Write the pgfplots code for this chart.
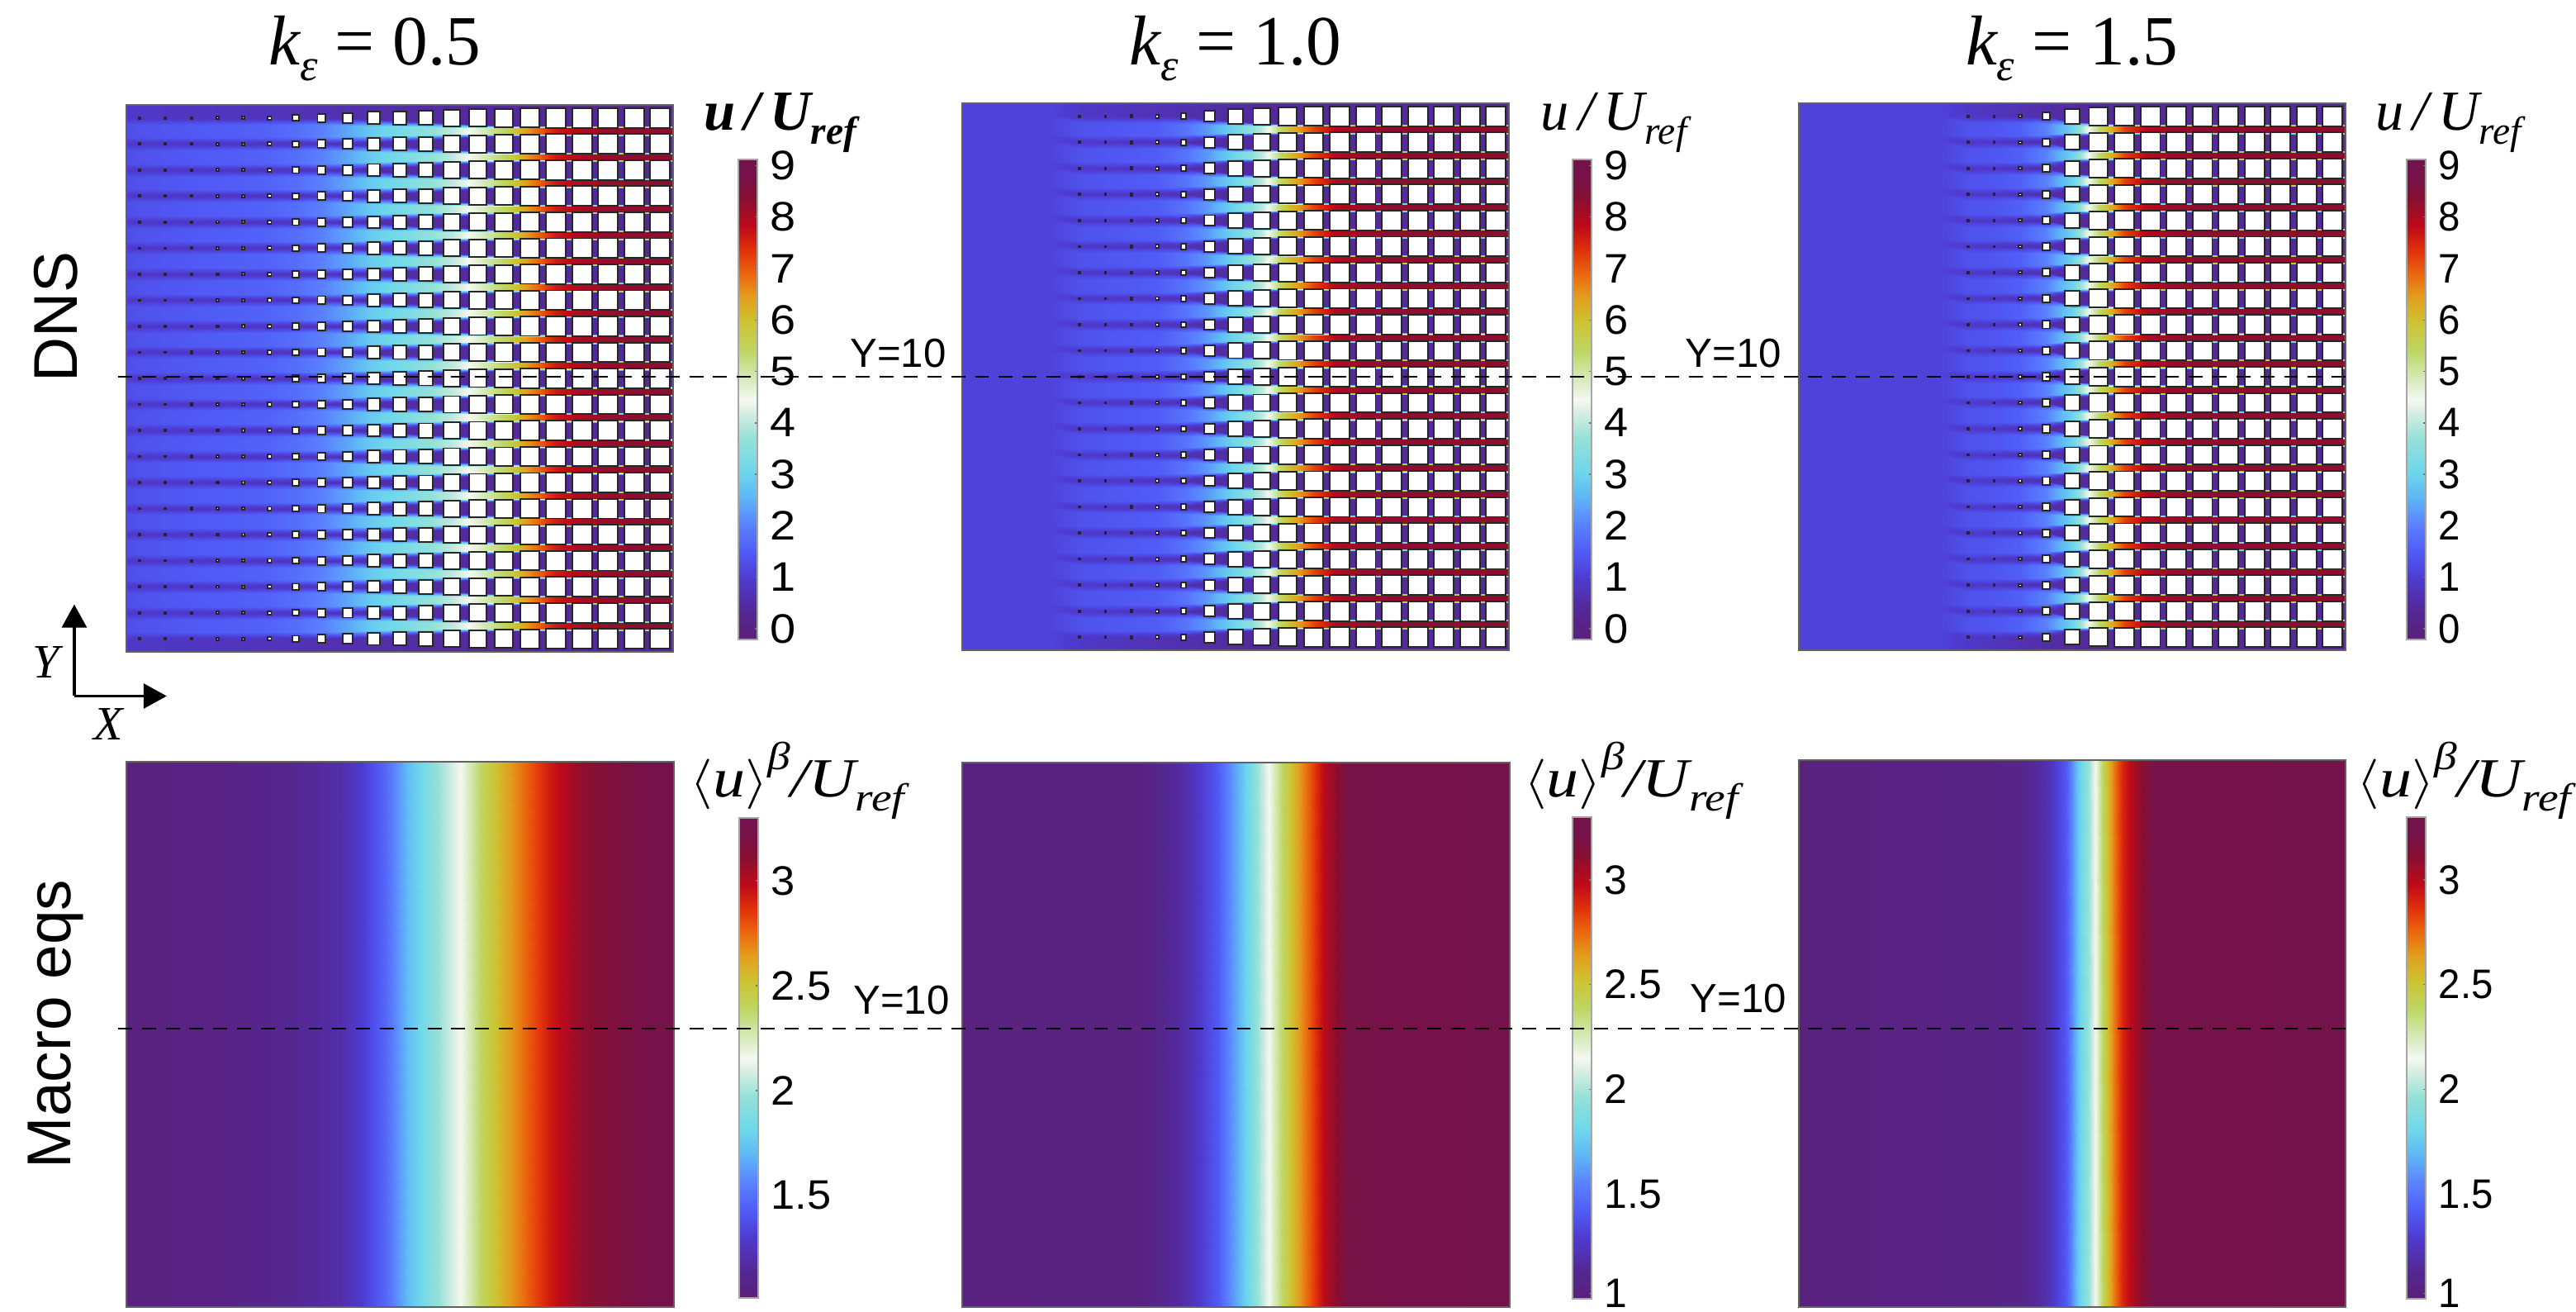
\documentclass[border=0pt]{standalone}
\usepackage{graphicx}
\usepackage{fontspec}
\setmainfont{Liberation Sans}
\newfontfamily\tm{Liberation Serif}
\usepackage{pgfplots}
\usepackage{pgfplotstable}
\pgfplotsset{compat=1.18}
\usetikzlibrary{arrows.meta}
\newcommand\fs[1]{\fontsize{#1}{#1}\selectfont}
\pgfplotsset{
  colormap={flow}{
    rgb255(0cm)=(90,32,120) rgb255(6cm)=(84,40,150) rgb255(13cm)=(78,60,210)
    rgb255(18cm)=(80,90,245) rgb255(24cm)=(90,130,255) rgb255(30cm)=(95,185,245)
    rgb255(35cm)=(110,215,235) rgb255(42cm)=(150,225,215) rgb255(48cm)=(225,240,230)
    rgb255(50cm)=(245,248,240) rgb255(54cm)=(215,235,190) rgb255(60cm)=(190,215,100)
    rgb255(66cm)=(205,195,50) rgb255(71cm)=(225,160,30) rgb255(76cm)=(235,105,15)
    rgb255(81cm)=(225,50,10) rgb255(86cm)=(190,10,25) rgb255(92cm)=(135,15,50)
    rgb255(96cm)=(118,18,72) rgb255(100cm)=(115,18,78)
  },
  colormap name=flow,
  panel/.style={scale only axis, anchor=north west, xtick=\empty, ytick=\empty,
    axis on top, axis line style={draw=black!62, line width=.6pt}},
}
% ---- DNS data: per column x: dy level, velocity
\pgfplotstableread[row sep=\\]{
x dy m\\
-0.5 -.5 .9\\ -0.5 -.25 1.3\\ -0.5 .25 1.3\\ -0.5 .5 .9\\
0 -.5 .85\\ 0 -.25 1.35\\ 0 .25 1.35\\ 0 .5 .85\\
1 -.5 .85\\ 1 -.25 1.4\\ 1 .25 1.4\\ 1 .5 .85\\
2 -.5 .82\\ 2 -.25 1.45\\ 2 .25 1.45\\ 2 .5 .82\\
3 -.5 .8\\ 3 -.25 1.5\\ 3 .25 1.5\\ 3 .5 .8\\
4 -.5 .78\\ 4 -.25 1.55\\ 4 .25 1.55\\ 4 .5 .78\\
5 -.5 .75\\ 5 -.25 1.6\\ 5 .25 1.6\\ 5 .5 .75\\
6 -.5 .72\\ 6 -.25 1.75\\ 6 .25 1.75\\ 6 .5 .72\\
7 -.5 .68\\ 7 -.25 2.0\\ 7 .25 2.0\\ 7 .5 .68\\
8 -.5 .62\\ 8 -.22 2.4\\ 8 .22 2.4\\ 8 .5 .62\\
9 -.45 .58\\ 9 -.18 2.9\\ 9 .18 2.9\\ 9 .45 .58\\
10 -.4 .55\\ 10 -.16 3.2\\ 10 .16 3.2\\ 10 .4 .55\\
11 -.35 .5\\ 11 -.14 3.6\\ 11 .14 3.6\\ 11 .35 .5\\
12 -.3 .45\\ 12 -.12 4.0\\ 12 .12 4.0\\ 12 .3 .45\\
13 -.25 .42\\ 13 -.12 4.7\\ 13 .12 4.7\\ 13 .25 .42\\
14 -.22 .4\\ 14 -.11 5.4\\ 14 .11 5.4\\ 14 .22 .4\\
15 -.2 .4\\ 15 -.1 6.6\\ 15 .1 6.6\\ 15 .2 .4\\
16 -.2 .4\\ 16 -.1 7.6\\ 16 .1 7.6\\ 16 .2 .4\\
17 -.2 .4\\ 17 -.1 8\\ 17 .1 8\\ 17 .2 .4\\
18 -.2 .4\\ 18 -.1 8.2\\ 18 .1 8.2\\ 18 .2 .4\\
19 -.2 .4\\ 19 -.1 8.3\\ 19 .1 8.3\\ 19 .2 .4\\
20 -.2 .4\\ 20 -.1 8.3\\ 20 .1 8.3\\ 20 .2 .4\\
20.5 -.2 .4\\ 20.5 -.1 8.3\\ 20.5 .1 8.3\\ 20.5 .2 .4\\
}\bandA
\pgfplotstableread[row sep=\\]{
x dy m\\
3 -.5 1.1\\ 3 -.25 1.12\\ 3 .25 1.12\\ 3 .5 1.1\\
4 -.5 .9\\ 4 -.25 1.35\\ 4 .25 1.35\\ 4 .5 .9\\
5 -.5 .85\\ 5 -.25 1.4\\ 5 .25 1.4\\ 5 .5 .85\\
6 -.5 .8\\ 6 -.25 1.45\\ 6 .25 1.45\\ 6 .5 .8\\
7 -.5 .72\\ 7 -.25 1.5\\ 7 .25 1.5\\ 7 .5 .72\\
8 -.5 .62\\ 8 -.22 1.8\\ 8 .22 1.8\\ 8 .5 .62\\
9 -.4 .55\\ 9 -.18 2.3\\ 9 .18 2.3\\ 9 .4 .55\\
10 -.3 .45\\ 10 -.14 3.1\\ 10 .14 3.1\\ 10 .3 .45\\
11 -.25 .4\\ 11 -.12 4\\ 11 .12 4\\ 11 .25 .4\\
12 -.2 .4\\ 12 -.11 5.9\\ 12 .11 5.9\\ 12 .2 .4\\
13 -.2 .4\\ 13 -.1 7.2\\ 13 .1 7.2\\ 13 .2 .4\\
14 -.2 .4\\ 14 -.1 8\\ 14 .1 8\\ 14 .2 .4\\
15 -.2 .4\\ 15 -.1 8.2\\ 15 .1 8.2\\ 15 .2 .4\\
16 -.2 .4\\ 16 -.1 8.3\\ 16 .1 8.3\\ 16 .2 .4\\
17 -.2 .4\\ 17 -.1 8.3\\ 17 .1 8.3\\ 17 .2 .4\\
18 -.2 .4\\ 18 -.1 8.3\\ 18 .1 8.3\\ 18 .2 .4\\
19 -.2 .4\\ 19 -.1 8.3\\ 19 .1 8.3\\ 19 .2 .4\\
20 -.2 .4\\ 20 -.1 8.3\\ 20 .1 8.3\\ 20 .2 .4\\
20.5 -.2 .4\\ 20.5 -.1 8.3\\ 20.5 .1 8.3\\ 20.5 .2 .4\\
}\bandB
\pgfplotstableread[row sep=\\]{
x dy m\\
5 -.5 1.1\\ 5 -.25 1.12\\ 5 .25 1.12\\ 5 .5 1.1\\
6 -.5 .9\\ 6 -.25 1.35\\ 6 .25 1.35\\ 6 .5 .9\\
7 -.5 .85\\ 7 -.25 1.4\\ 7 .25 1.4\\ 7 .5 .85\\
8 -.5 .7\\ 8 -.25 1.55\\ 8 .25 1.55\\ 8 .5 .7\\
9 -.5 .55\\ 9 -.22 2.0\\ 9 .22 2.0\\ 9 .5 .55\\
10 -.3 .45\\ 10 -.14 3.0\\ 10 .14 3.0\\ 10 .3 .45\\
11 -.25 .4\\ 11 -.11 5.3\\ 11 .11 5.3\\ 11 .25 .4\\
12 -.2 .4\\ 12 -.1 7.2\\ 12 .1 7.2\\ 12 .2 .4\\
13 -.2 .4\\ 13 -.1 8\\ 13 .1 8\\ 13 .2 .4\\
14 -.2 .4\\ 14 -.1 8.2\\ 14 .1 8.2\\ 14 .2 .4\\
15 -.2 .4\\ 15 -.1 8.3\\ 15 .1 8.3\\ 15 .2 .4\\
16 -.2 .4\\ 16 -.1 8.3\\ 16 .1 8.3\\ 16 .2 .4\\
17 -.2 .4\\ 17 -.1 8.3\\ 17 .1 8.3\\ 17 .2 .4\\
18 -.2 .4\\ 18 -.1 8.3\\ 18 .1 8.3\\ 18 .2 .4\\
19 -.2 .4\\ 19 -.1 8.3\\ 19 .1 8.3\\ 19 .2 .4\\
20 -.2 .4\\ 20 -.1 8.3\\ 20 .1 8.3\\ 20 .2 .4\\
20.5 -.2 .4\\ 20.5 -.1 8.3\\ 20.5 .1 8.3\\ 20.5 .2 .4\\
}\bandC
\pgfplotstableread[row sep=\\]{
x y m\\
-0.5 -0.5 .9\\ -0.5 20.5 .9\\ 5 -0.5 .75\\ 5 20.5 .75\\ 9 -0.5 .58\\ 9 20.5 .58\\
13 -0.5 .42\\ 13 20.5 .42\\ 14 -0.5 .4\\ 14 20.5 .4\\ 20.5 -0.5 .4\\ 20.5 20.5 .4\\
}\baseA
\pgfplotstableread[row sep=\\]{
x y m\\
-0.5 -0.5 1.1\\ -0.5 20.5 1.1\\ 3 -0.5 1.1\\ 3 20.5 1.1\\ 4 -0.5 .9\\ 4 20.5 .9\\
8 -0.5 .62\\ 8 20.5 .62\\ 11 -0.5 .4\\ 11 20.5 .4\\ 20.5 -0.5 .4\\ 20.5 20.5 .4\\
}\baseB
\pgfplotstableread[row sep=\\]{
x y m\\
-0.5 -0.5 1.1\\ -0.5 20.5 1.1\\ 5 -0.5 1.1\\ 5 20.5 1.1\\ 6 -0.5 .9\\ 6 20.5 .9\\
9 -0.5 .55\\ 9 20.5 .55\\ 11 -0.5 .4\\ 11 20.5 .4\\ 20.5 -0.5 .4\\ 20.5 20.5 .4\\
}\baseC
% obstacle half-widths (pt)
\pgfplotstableread[row sep=\\]{
x s\\ 0 .25\\ 1 .25\\ 2 .32\\ 3 .38\\ 4 .45\\ 5 .6\\ 6 1.05\\ 7 1.4\\ 8 1.65\\ 9 2.07\\
10 2.29\\ 11 2.43\\ 12 2.85\\ 13 3.0\\ 14 3.14\\ 15 3.3\\ 16 3.38\\ 17 3.38\\ 18 3.38\\ 19 3.38\\ 20 3.38\\
}\sqA
\pgfplotstableread[row sep=\\]{
x s\\ 4 .25\\ 5 .25\\ 6 .38\\ 7 .55\\ 8 .95\\ 9 1.8\\ 10 2.57\\ 11 2.85\\ 12 3.14\\ 13 3.3\\
14 3.38\\ 15 3.38\\ 16 3.38\\ 17 3.38\\ 18 3.38\\ 19 3.38\\ 20 3.38\\
}\sqB
\pgfplotstableread[row sep=\\]{
x s\\ 6 .25\\ 7 .25\\ 8 .45\\ 9 1.3\\ 10 2.57\\ 11 3.14\\ 12 3.3\\ 13 3.38\\ 14 3.38\\ 15 3.38\\
16 3.38\\ 17 3.38\\ 18 3.38\\ 19 3.38\\ 20 3.38\\
}\sqC
% macro profiles: X in percent of the width, two y levels
\pgfplotstableread[row sep=\\]{
x y m\\
0 0 1.04\\ 0 1 1.04\\ 18 0 1.07\\ 18 1 1.07\\ 28 0 1.11\\ 28 1 1.11\\ 39 0 1.2\\ 39 1 1.2\\
43 0 1.3\\ 43 1 1.3\\ 47.4 0 1.47\\ 47.4 1 1.47\\ 51.6 0 1.72\\ 51.6 1 1.72\\ 55.8 0 1.92\\ 55.8 1 1.92\\
61 0 2.15\\ 61 1 2.15\\ 65.3 0 2.42\\ 65.3 1 2.42\\ 69.5 0 2.62\\ 69.5 1 2.62\\ 72.7 0 2.75\\ 72.7 1 2.75\\
77 0 2.92\\ 77 1 2.92\\ 83.3 0 3.1\\ 83.3 1 3.1\\ 91.8 0 3.19\\ 91.8 1 3.19\\ 100 0 3.26\\ 100 1 3.26\\
}\macA
\pgfplotstableread[row sep=\\]{
x y m\\
0 0 1.04\\ 0 1 1.04\\ 32.7 0 1.05\\ 32.7 1 1.05\\ 40.8 0 1.2\\ 40.8 1 1.2\\ 46.6 0 1.42\\ 46.6 1 1.42\\
50.7 0 1.7\\ 50.7 1 1.7\\ 53.1 0 1.9\\ 53.1 1 1.9\\ 55.9 0 2.15\\ 55.9 1 2.15\\ 58.8 0 2.42\\ 58.8 1 2.42\\
61.3 0 2.62\\ 61.3 1 2.62\\ 63.7 0 2.8\\ 63.7 1 2.8\\ 66.2 0 3.0\\ 66.2 1 3.0\\ 70.3 0 3.2\\ 70.3 1 3.2\\
100 0 3.27\\ 100 1 3.27\\
}\macB
\pgfplotstableread[row sep=\\]{
x y m\\
0 0 1.04\\ 0 1 1.04\\ 40 0 1.08\\ 40 1 1.08\\ 45 0 1.2\\ 45 1 1.2\\ 48.9 0 1.42\\ 48.9 1 1.42\\
51 0 1.75\\ 51 1 1.75\\ 53.1 0 2.0\\ 53.1 1 2.0\\ 54.2 0 2.15\\ 54.2 1 2.15\\ 55.9 0 2.45\\ 55.9 1 2.45\\
57.5 0 2.7\\ 57.5 1 2.7\\ 59.2 0 2.9\\ 59.2 1 2.9\\ 61.6 0 3.05\\ 61.6 1 3.05\\ 64.9 0 3.23\\ 64.9 1 3.23\\
100 0 3.27\\ 100 1 3.27\\
}\macC
% #1 x, #2 y, #3 band table, #4 band x count, #5 base, #6 squares
\newcommand\dns[6]{%
\begin{axis}[panel, at={(#1cm,#2cm)}, width=6.62cm, height=6.62cm,
  xmin=-0.5, xmax=20.5, ymin=-0.5, ymax=20.5, point meta min=-0.2, point meta max=9.1]
\addplot[surf, shader=interp, mesh/ordering=y varies, mesh/rows=2, mesh/cols=6, point meta=\thisrow{m}] table[x=x,y=y]{#5};
\pgfplotsinvokeforeach{0,...,19}{
\addplot[surf, shader=interp, mesh/ordering=y varies, mesh/rows=4, mesh/cols=#4, point meta=\thisrow{m}] table[x=x, y expr=\thisrow{dy}+##1+0.5]{#3};
}
\pgfplotsinvokeforeach{0,...,20}{
\addplot[scatter, only marks, mark=square*, draw=black!85, fill=white,
  point meta=\thisrow{s},
  visualization depends on={\thisrow{s} \as \perptsz},
  scatter/@pre marker code/.code={\scope[/tikz/mark size=\perptsz, draw=black!85, fill=white, line width=.55pt]},
  scatter/@post marker code/.code={\endscope}] table[x=x, y expr=##1]{#6};
}
\end{axis}}
% #1 x,#2 y,#3 w,#4 h,#5 count,#6 table
\newcommand\macro[6]{%
\begin{axis}[panel, at={(#1cm,#2cm)}, width=#3cm, height=#4cm,
  xmin=0, xmax=100, ymin=0, ymax=1, point meta min=1.01, point meta max=3.3]
\addplot[surf, shader=interp, mesh/ordering=y varies, mesh/rows=2, mesh/cols=#5, point meta=\thisrow{m}] table[x=x,y=y]{#6};
\end{axis}}
% #1 x,#2 y,#3 h,#4 ymin,#5 ymax,#6 ticks,#7 xscale
\newcommand\cbar[7]{%
\begin{axis}[scale only axis, anchor=north west, at={(#1cm,#2cm)}, width=.23cm, height=#3cm,
  xmin=0, xmax=1, ymin=#4, ymax=#5, point meta min=#4, point meta max=#5,
  xtick=\empty, ytick={#6}, ytick pos=right, tick align=inside, major tick length=.03cm,
  tick style={black!55, line width=.4pt}, axis on top,
  axis line style={draw=black!35, line width=.4pt},
  /pgf/number format/assume math mode=true,
  yticklabel={\scalebox{#7}[1]{\pgfmathparse{and(\tick>1,\tick<1.03)?1:\tick}\pgfmathprintnumber{\pgfmathresult}}},
  yticklabel style={font=\fs{14.2}, inner sep=0pt, xshift=.15cm}]
\addplot[surf, shader=interp, mesh/rows=2, mesh/cols=2, point meta=y] coordinates {(0,#4)(1,#4)(0,#5)(1,#5)};
\end{axis}}
\newcommand\ulab[1]{{\tm\fs{19.5}#1\itshape u\,/\,U\raisebox{-.25em}{\fs{13.5}ref}}}
\newcommand\blab{\scalebox{1.17}[1]{\tm\fs{19}$\langle$\itshape u\upshape$\rangle$\raisebox{.5em}{\itshape\fs{13.5}β}\itshape/U\raisebox{-.25em}{\fs{13.5}ref}}}
\newcommand\ttl[1]{{\tm\fs{24.3}\itshape k\raisebox{-.22em}{\fs{15.5}ε}\upshape\ = #1}}
\begin{document}
\begin{tikzpicture}
\useasboundingbox (0,0) rectangle (31.19,15.88);
\dns{1.53}{14.61}{\bandA}{23}{\baseA}{\sqA}
\dns{11.65}{14.63}{\bandB}{19}{\baseB}{\sqB}
\dns{21.78}{14.63}{\bandC}{17}{\baseC}{\sqC}
\macro{1.53}{6.66}{6.63}{6.60}{16}{\macA}
\macro{11.65}{6.65}{6.63}{6.59}{13}{\macB}
\macro{21.78}{6.68}{6.62}{6.62}{13}{\macC}
\cbar{8.94}{13.95}{5.81}{-0.21}{9.12}{0,1,...,9}{1.12}
\cbar{19.04}{13.95}{5.81}{-0.21}{9.12}{0,1,...,9}{1.05}
\cbar{29.14}{13.95}{5.81}{-0.21}{9.12}{0,1,...,9}{0.95}
\cbar{8.95}{5.98}{5.81}{1.01}{3.3}{1.5,2,2.5,3}{1.05}
\cbar{19.04}{5.99}{5.83}{1.0}{3.3}{1.025,1.5,2,2.5,3}{1.0}
\cbar{29.14}{5.99}{5.83}{1.0}{3.3}{1.025,1.5,2,2.5,3}{0.95}
% dashed Y=10 lines across the figure
\begin{axis}[scale only axis, anchor=south west, at={(0cm,0cm)}, width=31.19cm, height=15.88cm,
  xmin=0, xmax=3119, ymin=0, ymax=1588, y dir=reverse, hide axis]
\addplot[black, line width=.65pt, dash pattern=on 4.8pt off 3.4pt] coordinates {(143,456)(2848,456)};
\addplot[black, line width=.65pt, dash pattern=on 4.8pt off 3.4pt] coordinates {(143,1245)(2848,1245)};
\end{axis}
\begin{scope}[x=0.01cm,y=-0.01cm,yshift=15.88cm]
\node[anchor=base] at (454,79) {\ttl{0.5}};
\node[anchor=base] at (1497,79) {\ttl{1.0}};
\node[anchor=base] at (2510,79) {\ttl{1.5}};
\node[rotate=90,font=\fs{21.3}] at (68,384) {DNS};
\node[rotate=90,font=\fs{21.3}] at (68,1240) {Macro eqs};
\node at (945,149) {\ulab{\bfseries}};
\node at (1955,149) {\ulab{}};
\node at (2966,149) {\ulab{}};
\node at (966,945) {\blab};
\node at (1976,945) {\blab};
\node at (2985,945) {\blab};
\foreach \p/\q in {1088/428,2100/428,1092/1211,2106/1209}{\node[font=\fs{14}] at (\p,\q) {Y=10};}
\draw[-{Triangle[length=8pt,width=8.5pt]},line width=1.1pt] (90,843) -- (90,732);
\draw[-{Triangle[length=8pt,width=8.5pt]},line width=1.1pt] (90,843) -- (202,843);
\node[font=\tm\fs{16.5}\itshape] at (56,802) {Y};
\node[font=\tm\fs{16.5}\itshape] at (131,877) {X};
\end{scope}
\end{tikzpicture}
\end{document}
